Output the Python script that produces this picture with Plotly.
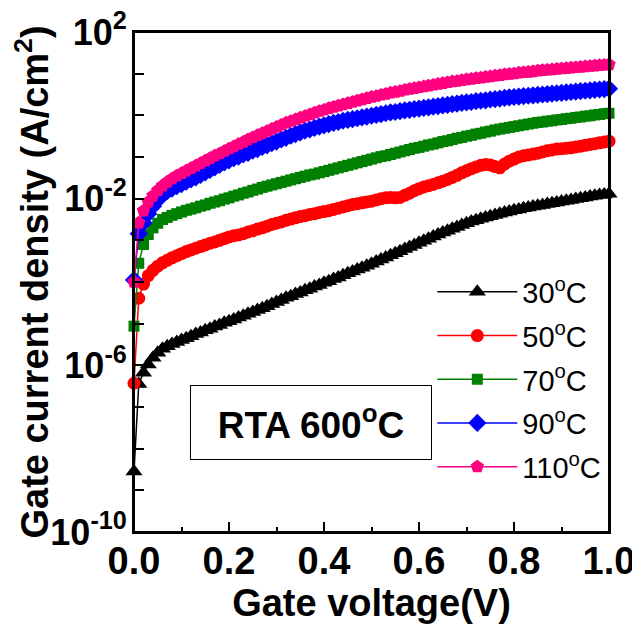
import plotly.graph_objects as go

# Gate voltage grid (V)
voltage = [round(i * 0.01, 2) for i in range(101)]

# log10 of gate current density (A/cm^2), one value per 0.01 V
log_j_30c = [-8.55, -6.45, -6.18, -5.98, -5.82, -5.70, -5.60, -5.54, -5.49, -5.44,
             -5.39, -5.35, -5.30, -5.25, -5.21, -5.16, -5.12, -5.07, -5.03, -4.98,
             -4.94, -4.90, -4.85, -4.81, -4.76, -4.72, -4.67, -4.63, -4.58, -4.53,
             -4.48, -4.43, -4.38, -4.34, -4.29, -4.25, -4.20, -4.16, -4.11, -4.07,
             -4.02, -3.98, -3.93, -3.89, -3.84, -3.79, -3.75, -3.70, -3.66, -3.61,
             -3.56, -3.51, -3.46, -3.41, -3.36, -3.31, -3.26, -3.21, -3.16, -3.11,
             -3.06, -3.01, -2.96, -2.91, -2.86, -2.81, -2.77, -2.72, -2.68, -2.63,
             -2.59, -2.55, -2.52, -2.48, -2.45, -2.42, -2.39, -2.36, -2.33, -2.31,
             -2.28, -2.26, -2.23, -2.21, -2.19, -2.17, -2.15, -2.13, -2.11, -2.09,
             -2.07, -2.05, -2.03, -2.01, -1.99, -1.97, -1.95, -1.93, -1.91, -1.90,
             -1.88]

log_j_50c = [-6.43, -4.39, -4.05, -3.85, -3.72, -3.62, -3.54, -3.48, -3.42, -3.37,
             -3.32, -3.27, -3.23, -3.19, -3.15, -3.11, -3.07, -3.04, -3.00, -2.96,
             -2.92, -2.89, -2.87, -2.84, -2.80, -2.77, -2.73, -2.70, -2.66, -2.62,
             -2.59, -2.56, -2.52, -2.49, -2.46, -2.43, -2.41, -2.38, -2.36, -2.33,
             -2.31, -2.29, -2.26, -2.23, -2.20, -2.17, -2.14, -2.12, -2.10, -2.08,
             -2.06, -2.03, -2.00, -1.98, -1.97, -1.98, -1.97, -1.92, -1.87, -1.81,
             -1.76, -1.72, -1.69, -1.66, -1.62, -1.58, -1.54, -1.49, -1.44, -1.38,
             -1.33, -1.28, -1.24, -1.20, -1.18, -1.19, -1.23, -1.26, -1.17, -1.10,
             -1.05, -1.00, -0.97, -0.95, -0.93, -0.91, -0.88, -0.85, -0.83, -0.81,
             -0.80, -0.79, -0.78, -0.76, -0.74, -0.72, -0.70, -0.68, -0.66, -0.64,
             -0.62]

log_j_70c = [-5.06, -3.55, -3.10, -2.86, -2.70, -2.59, -2.50, -2.45, -2.40, -2.36,
             -2.32, -2.28, -2.25, -2.22, -2.18, -2.15, -2.11, -2.08, -2.05, -2.01,
             -1.98, -1.94, -1.91, -1.87, -1.84, -1.80, -1.77, -1.73, -1.70, -1.67,
             -1.64, -1.61, -1.58, -1.55, -1.52, -1.49, -1.46, -1.43, -1.41, -1.38,
             -1.35, -1.32, -1.29, -1.26, -1.23, -1.20, -1.17, -1.14, -1.11, -1.08,
             -1.05, -1.02, -0.99, -0.97, -0.94, -0.91, -0.88, -0.85, -0.82, -0.79,
             -0.77, -0.74, -0.71, -0.69, -0.66, -0.63, -0.61, -0.58, -0.55, -0.53,
             -0.50, -0.48, -0.45, -0.43, -0.40, -0.38, -0.35, -0.33, -0.31, -0.29,
             -0.27, -0.25, -0.23, -0.21, -0.19, -0.17, -0.16, -0.14, -0.13, -0.11,
             -0.10, -0.08, -0.07, -0.05, -0.04, -0.02, -0.01, 0.01, 0.02, 0.04,
             0.05]

log_j_90c = [-3.95, -2.84, -2.58, -2.36, -2.18, -2.03, -1.90, -1.82, -1.76, -1.70,
             -1.65, -1.59, -1.54, -1.49, -1.43, -1.37, -1.31, -1.25, -1.19, -1.13,
             -1.08, -1.03, -0.99, -0.94, -0.90, -0.85, -0.81, -0.76, -0.72, -0.67,
             -0.63, -0.58, -0.54, -0.49, -0.45, -0.41, -0.37, -0.34, -0.30, -0.27,
             -0.24, -0.21, -0.18, -0.16, -0.13, -0.11, -0.09, -0.07, -0.05, -0.03,
             -0.01, 0.01, 0.03, 0.05, 0.07, 0.08, 0.10, 0.12, 0.13, 0.15,
             0.16, 0.18, 0.19, 0.21, 0.22, 0.24, 0.25, 0.27, 0.28, 0.30,
             0.31, 0.32, 0.34, 0.35, 0.36, 0.38, 0.39, 0.40, 0.42, 0.43,
             0.44, 0.45, 0.46, 0.47, 0.48, 0.49, 0.50, 0.51, 0.52, 0.53,
             0.54, 0.55, 0.56, 0.57, 0.58, 0.59, 0.60, 0.61, 0.62, 0.63,
             0.64]

log_j_110c = [-4.00, -2.58, -2.29, -2.08, -1.93, -1.80, -1.69, -1.60, -1.52, -1.45,
              -1.39, -1.33, -1.27, -1.21, -1.15, -1.09, -1.03, -0.97, -0.92, -0.86,
              -0.80, -0.75, -0.69, -0.64, -0.58, -0.53, -0.48, -0.43, -0.38, -0.33,
              -0.28, -0.23, -0.18, -0.14, -0.10, -0.06, -0.02, 0.02, 0.06, 0.10,
              0.13, 0.17, 0.20, 0.23, 0.26, 0.29, 0.32, 0.35, 0.38, 0.41,
              0.44, 0.46, 0.49, 0.51, 0.54, 0.56, 0.58, 0.61, 0.63, 0.65,
              0.67, 0.69, 0.71, 0.73, 0.75, 0.77, 0.79, 0.81, 0.82, 0.84,
              0.86, 0.87, 0.89, 0.90, 0.92, 0.93, 0.95, 0.96, 0.98, 0.99,
              1.00, 1.02, 1.03, 1.04, 1.05, 1.07, 1.08, 1.09, 1.10, 1.11,
              1.12, 1.13, 1.14, 1.15, 1.16, 1.17, 1.18, 1.19, 1.20, 1.21,
              1.22]

series_names = ["30<sup>o</sup>C", "50<sup>o</sup>C", "70<sup>o</sup>C",
                "90<sup>o</sup>C", "110<sup>o</sup>C"]
series_logs = [log_j_30c, log_j_50c, log_j_70c, log_j_90c, log_j_110c]
colors = ["#000000", "#FF0000", "#008000", "#0000FF", "#FF0080"]
symbols = ["triangle-up", "circle", "square", "diamond", "pentagon"]
sizes = [15, 13, 11, 14, 14]

y_label_exps = [-10, -6, -2, 2]
y_label_texts = ["10<sup>-10</sup>", "10<sup>-6</sup>", "10<sup>-2</sup>", "10<sup>2</sup>"]
y_minor_exps = [-9, -8, -7, -5, -4, -3, -1, 0, 1]
x_tick_vals = [0.0, 0.2, 0.4, 0.6, 0.8, 1.0]
x_tick_labels = ["0.0", "0.2", "0.4", "0.6", "0.8", "1.0"]
x_minor_vals = [0.1, 0.3, 0.5, 0.7, 0.9]

FONT = "Arial, 'Liberation Sans', sans-serif"

fig = go.Figure()
for name, logs, c, s, sz in zip(series_names, series_logs, colors, symbols, sizes):
    fig.add_trace(go.Scatter(
        x=voltage, y=[10 ** v for v in logs], name=name,
        mode="lines+markers", legendgroup=name,
        line=dict(color=c, width=1.5),
        marker=dict(symbol=s, size=sz, color=c, line=dict(width=0)),
        cliponaxis=False,
    ))

# the page adds an 8px body margin, so the figure is 8px smaller and margins shifted
fig.update_layout(
    width=632, height=622,
    margin=dict(l=126, r=31, t=24, b=98, autoexpand=False),
    paper_bgcolor="white", plot_bgcolor="white",
    font=dict(family=FONT, color="black"),
    showlegend=True,
    legend=dict(x=0.628, y=0.531, xanchor="left", yanchor="top",
                bgcolor="rgba(0,0,0,0)", font=dict(size=29, family=FONT),
                tracegroupgap=3, itemwidth=80),
    annotations=[dict(
        text="<b>RTA 600<sup>o</sup>C</b>", xref="paper", yref="paper",
        x=0.3726, y=0.219, xanchor="center", yanchor="middle",
        showarrow=False, font=dict(size=37, family=FONT),
        bordercolor="black", borderwidth=1, borderpad=0,
        width=240, height=73, bgcolor="white",
    )],
    shapes=[dict(type="rect", xref="paper", yref="paper", x0=0, x1=1, y0=0, y1=1,
                 line=dict(color="black", width=2), layer="above")],
)

fig.update_xaxes(
    range=[0, 1], showgrid=False, zeroline=False, automargin=False,
    showline=True, linecolor="black", linewidth=2, mirror=True,
    ticks="inside", ticklen=10, tickwidth=1.5, tickcolor="black",
    tickvals=x_tick_vals, ticktext=["<b>%s</b>" % t for t in x_tick_labels],
    tickfont=dict(size=38, family=FONT), ticklabelstandoff=-6,
    ticklabeloverflow="allow",
    minor=dict(ticks="inside", ticklen=5, tickwidth=1.5, tickcolor="black",
               tickvals=x_minor_vals),
    title=dict(text="<b>Gate voltage(V)</b>", font=dict(size=38, family=FONT), standoff=2),
)
fig.update_yaxes(
    type="log", range=[-10, 2], showgrid=False, zeroline=False, automargin=False,
    showline=True, linecolor="black", linewidth=2, mirror=True,
    ticks="inside", ticklen=10, tickwidth=1.5, tickcolor="black",
    tickvals=[10 ** e for e in y_label_exps],
    ticktext=["<b>%s</b>" % t for t in y_label_texts],
    tickfont=dict(size=36, family=FONT), ticklabelstandoff=-2,
    ticklabeloverflow="allow",
    minor=dict(ticks="inside", ticklen=10, tickwidth=1.5, tickcolor="black",
               tickvals=[10 ** e for e in y_minor_exps]),
    title=dict(text="<b>Gate current density (A/cm<sup>2</sup>)</b>",
               font=dict(size=38, family=FONT), standoff=0),
)

fig.write_html("out.html")
